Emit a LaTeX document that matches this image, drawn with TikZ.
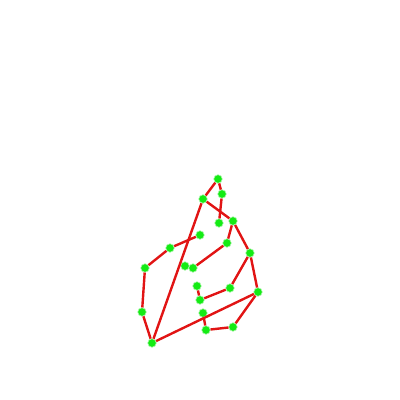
\documentclass[tikz,border=0pt]{standalone}
\usepackage{tikz}

\definecolor{edgered}{RGB}{225,20,20}
\definecolor{dotgreen}{RGB}{20,235,20}
\definecolor{dotrim}{RGB}{170,245,170}

\tikzset{
  dot/.style={circle, fill=dotgreen, draw=dotrim, line width=0.6pt,
    inner sep=0pt, minimum size=8.5pt},
  link/.style={edgered, line width=2.4pt}
}

\begin{document}
\begin{tikzpicture}[x=1pt, y=-1pt]
  % --- Canvas (400 x 400) ---
  \useasboundingbox (0,0) rectangle (400,400);
  % --- Vertices ---
  \foreach \n/\x/\y in {a/218/179, b/222/194, c/203/199, d/219/223,
      e/233/221, f/200/235, g/170/248, h/227/243, i/250/253,
      j/145/268, k/185/266, l/193/268, m/197/286, n/230/288,
      o/258/292, p/200/300, q/142/312, r/203/313, s/233/327,
      t/206/330, u/152/343} {
    \node[dot] (\n) at (\x,\y) {};
  }
  % --- Edges ---
  \foreach \s/\t in {a/c, a/b, b/d, c/e, c/u, f/g, g/j, e/h, e/i,
      h/l, i/o, i/n, n/p, m/p, o/u, o/s, s/t, r/t, j/q, q/u} {
    \draw[link] (\s) -- (\t);
  }
\end{tikzpicture}
\end{document}
